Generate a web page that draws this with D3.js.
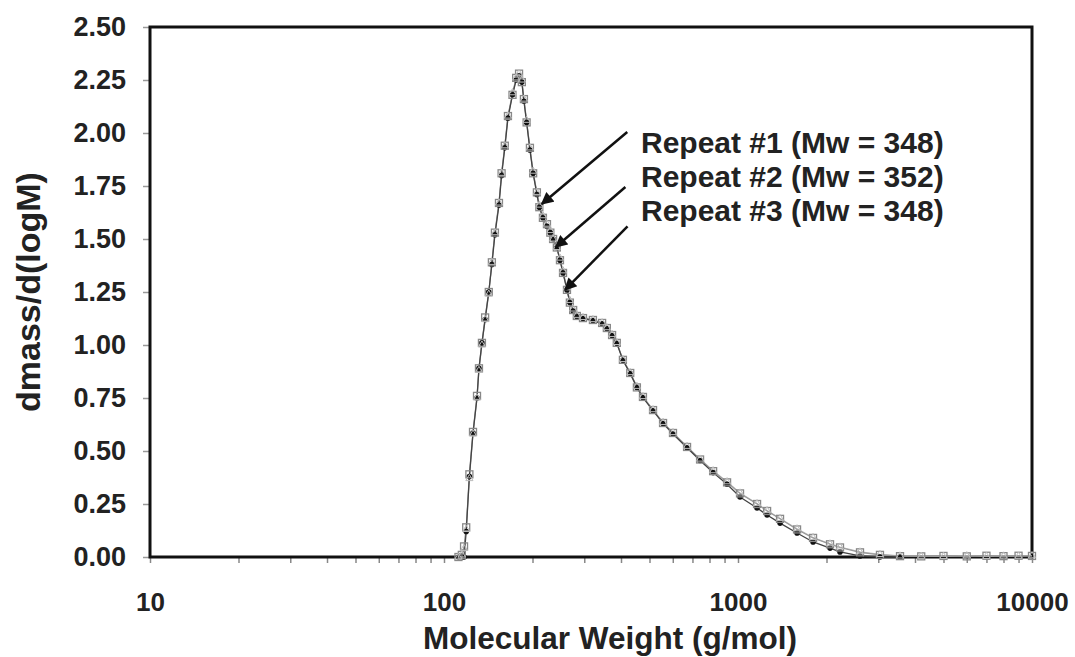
<!DOCTYPE html>
<html>
<head>
<meta charset="utf-8">
<script src="https://cdn.jsdelivr.net/npm/d3@7"></script>
<style>
  html, body { margin: 0; padding: 0; background: #fff; }
  svg { display: block; }
  text { font-family: "Liberation Sans", Arial, sans-serif; font-weight: bold; fill: #222; }
</style>
</head>
<body>
<svg id="chart" width="1075" height="657"></svg>
<script>
// ---- data ----
const mw = [112,115,117,119,122,125.5,129.5,131.5,134.6,138,142,145.5,149,153.8,157,161,165,171,176,180,184,187,191,196,201,207,211,217,224,230,235,242,248,254,262,268,275,283,297,321,345,358,373,387,406,430,453,475,514,556,601,671,743,823,918,1016,1161,1256,1390,1588,1800,2056,2223,2600,3040,3557,4200,5000,6000,7000,8000,9000,10000];
const rep1 = [0,0.01,0.05,0.14,0.39,0.59,0.76,0.89,1.01,1.13,1.25,1.39,1.53,1.67,1.81,1.94,2.08,2.18,2.26,2.28,2.24,2.16,2.05,1.93,1.81,1.72,1.65,1.60,1.57,1.53,1.50,1.46,1.40,1.34,1.26,1.20,1.165,1.137,1.127,1.118,1.104,1.08,1.047,1.01,0.93,0.868,0.80,0.755,0.693,0.632,0.585,0.519,0.46,0.405,0.352,0.300,0.250,0.217,0.180,0.130,0.090,0.060,0.045,0.022,0.010,0.004,0.003,0.005,0.003,0.006,0.004,0.006,0.005];
const rep2 = [0,0,0,0.12,0.38,0.585,0.75,0.89,1.01,1.12,1.25,1.38,1.52,1.66,1.80,1.93,2.07,2.18,2.25,2.27,2.24,2.15,2.05,1.92,1.81,1.71,1.65,1.60,1.56,1.53,1.50,1.46,1.40,1.34,1.26,1.20,1.16,1.135,1.125,1.115,1.10,1.078,1.045,1.008,0.928,0.865,0.80,0.752,0.69,0.63,0.58,0.515,0.455,0.398,0.343,0.283,0.231,0.198,0.160,0.113,0.071,0.042,0.024,0.005,0,0,null,null,null,null,null,null,null];
const rep3 = [0,0.01,0.04,0.13,0.37,0.58,0.75,0.88,1.00,1.12,1.24,1.39,1.53,1.67,1.81,1.94,2.08,2.19,2.26,2.28,2.25,2.16,2.06,1.93,1.82,1.72,1.66,1.61,1.57,1.54,1.50,1.46,1.41,1.35,1.27,1.21,1.17,1.14,1.13,1.12,1.105,1.082,1.05,1.012,0.932,0.87,0.805,0.757,0.695,0.635,0.587,0.522,0.462,0.407,0.355,0.302,0.252,0.219,0.182,0.133,0.092,0.062,0.047,0.024,0.012,0.005,0.004,0.003,0.006,0.003,0.005,0.004,0.006];

const yTicks = [0,0.25,0.5,0.75,1.0,1.25,1.5,1.75,2.0,2.25,2.5];
const xMajor = [10,100,1000,10000];
const xTitle = "Molecular Weight (g/mol)";
const yTitle = "dmass/d(logM)";

const annText = ["Repeat #1 (Mw = 348)", "Repeat #2 (Mw = 352)", "Repeat #3 (Mw = 348)"];
const annTipM = [215, 240, 258];
const annTipV = [1.665, 1.462, 1.26];
const annTailM = [420, 414, 421];
const annTailV = [2.005, 1.745, 1.56];

// ---- layout ----
const L = 150, R = 1032, T = 27, B = 557;
const svg = d3.select("#chart");
svg.append("rect").attr("width", 1075).attr("height", 657).attr("fill", "#fff");

const x = d3.scaleLog().domain([10, 10000]).range([L, R]);
const y = d3.scaleLinear().domain([0, 2.5]).range([B, T]);

// y axis
const yAxis = svg.append("g").attr("transform", `translate(${L},0)`)
  .call(d3.axisLeft(y).tickValues(yTicks).tickFormat(d3.format(".2f")).tickSize(7).tickPadding(17));
yAxis.select(".domain").remove();
yAxis.selectAll(".tick line").attr("stroke", "#999").attr("stroke-width", 1.5);
yAxis.selectAll(".tick text").style("font-size", "27px").attr("fill", "#222");

// x axis
const xTickVals = [];
for (let p = 10; p < 10000; p *= 10) for (let k = 1; k <= 9; k++) xTickVals.push(k * p);
xTickVals.push(10000);
const xAxis = svg.append("g").attr("transform", `translate(0,${B})`)
  .call(d3.axisBottom(x).tickValues(xTickVals)
    .tickFormat(d => xMajor.includes(d) ? String(d) : "").tickSize(6).tickPadding(30));
xAxis.select(".domain").remove();
xAxis.selectAll(".tick line").attr("stroke", "#888").attr("stroke-width", 1.5);
xAxis.selectAll(".tick text").style("font-size", "26px").attr("fill", "#222");

// frame
svg.append("rect").attr("x", L).attr("y", T).attr("width", R - L).attr("height", B - T)
  .attr("fill", "none").attr("stroke", "#111").attr("stroke-width", 3);

// series
function pts(vals) { return mw.map((m, i) => ({ m, v: vals[i] })).filter(d => d.v !== null && d.v !== undefined); }
const line = d3.line().x(d => x(d.m)).y(d => y(d.v));
const g = svg.append("g");

const s2 = pts(rep2), s1 = pts(rep1), s3 = pts(rep3);
g.append("path").datum(s3).attr("d", line).attr("fill", "none").attr("stroke", "#bbb").attr("stroke-width", 1.2);
g.append("path").datum(s1).attr("d", line).attr("fill", "none").attr("stroke", "#999").attr("stroke-width", 1.2);
g.append("path").datum(s2).attr("d", line).attr("fill", "none").attr("stroke", "#444").attr("stroke-width", 1.3);

g.selectAll("circle.r2").data(s2).join("circle").attr("class", "r2")
  .attr("cx", d => x(d.m)).attr("cy", d => y(d.v)).attr("r", 2.8).attr("fill", "#111");
g.selectAll("rect.r1").data(s1).join("rect").attr("class", "r1")
  .attr("x", d => x(d.m) - 3.5).attr("y", d => y(d.v) - 3.5).attr("width", 7).attr("height", 7)
  .attr("fill", "none").attr("stroke", "#888").attr("stroke-width", 1.3);
const tri = d3.symbol().type(d3.symbolTriangle).size(22);
g.selectAll("path.r3").data(s3).join("path").attr("class", "r3")
  .attr("d", tri).attr("transform", d => `translate(${x(d.m)},${y(d.v)})`)
  .attr("fill", "none").attr("stroke", "#bbb").attr("stroke-width", 1);

// annotations
const defs = svg.append("defs");
defs.append("marker").attr("id", "ah").attr("viewBox", "0 0 10 10").attr("refX", 9).attr("refY", 5)
  .attr("markerWidth", 5.5).attr("markerHeight", 5).attr("orient", "auto").attr("markerUnits", "strokeWidth")
  .append("path").attr("d", "M0,0 L10,5 L0,10 Z").attr("fill", "#111");

annText.forEach((t, i) => {
  svg.append("line")
    .attr("x1", x(annTailM[i])).attr("y1", y(annTailV[i]))
    .attr("x2", x(annTipM[i])).attr("y2", y(annTipV[i]))
    .attr("stroke", "#111").attr("stroke-width", 2.5).attr("marker-end", "url(#ah)");
  svg.append("text").attr("x", 641).attr("y", 153 + i * 34).style("font-size", "30px").text(t);
});

// axis titles
svg.append("text").attr("x", 610).attr("y", 649).attr("text-anchor", "middle").style("font-size", "31.5px").text(xTitle);
svg.append("text").attr("transform", "translate(40,292) rotate(-90)").attr("text-anchor", "middle")
  .style("font-size", "34px").text(yTitle);
</script>
</body>
</html>
